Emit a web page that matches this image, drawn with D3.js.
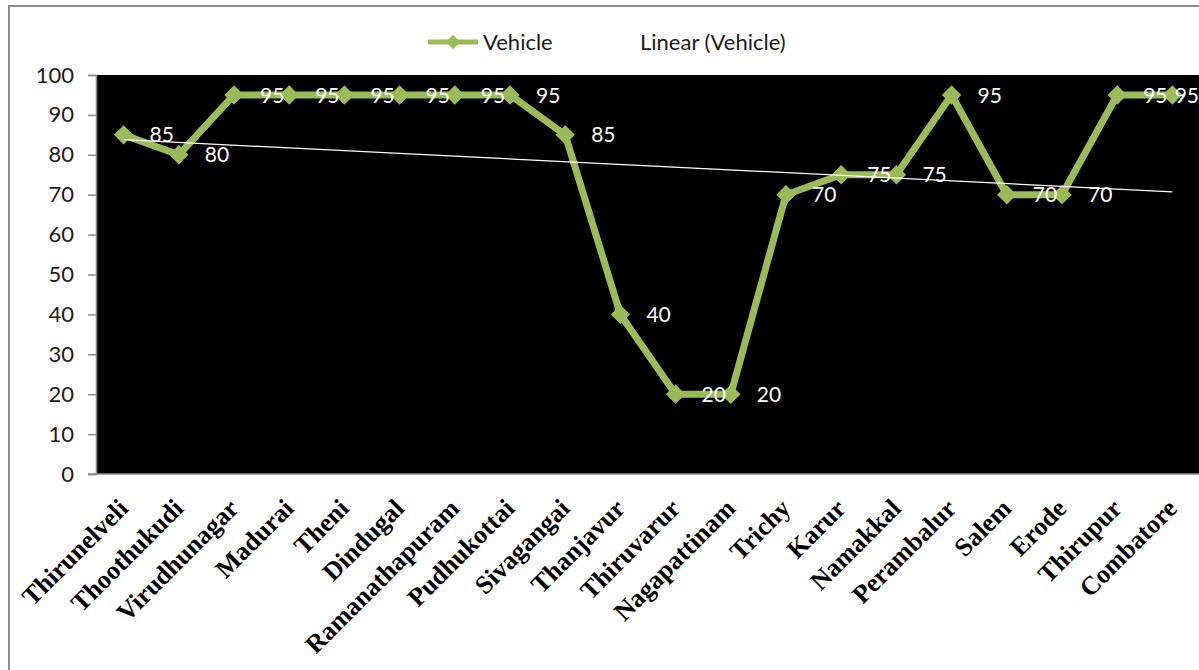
<!DOCTYPE html>
<html>
<head>
<meta charset="utf-8">
<script src="https://cdn.jsdelivr.net/npm/d3@7/dist/d3.min.js"></script>
<style>
  html, body { margin: 0; padding: 0; background: #fff; }
  svg { display: block; }
</style>
</head>
<body>
<svg id="chart" width="1199" height="670"></svg>
<script>
// District names along the x axis
const districts = [
  "Thirunelveli", "Thoothukudi", "Virudhunagar", "Madurai", "Theni",
  "Dindugal", "Ramanathapuram", "Pudhukottai", "Sivagangai", "Thanjavur",
  "Thiruvarur", "Nagapattinam", "Trichy", "Karur", "Namakkal",
  "Perambalur", "Salem", "Erode", "Thirupur", "Combatore"
];
// Vehicle score per district
const vehicle = [85, 80, 95, 95, 95, 95, 95, 95, 85, 40, 20, 20, 70, 75, 75, 95, 70, 70, 95, 95];
// Y axis ticks
const yTicks = [0, 10, 20, 30, 40, 50, 60, 70, 80, 90, 100];
const seriesName = "Vehicle";
const trendName = "Linear (Vehicle)";

const svg = d3.select("#chart");
const W = 1199, H = 670;
const plot = { left: 96, top: 75, right: 1200, bottom: 474 };
const green = "#9BBB59";
const sansFont = "Lato, 'Open Sans', sans-serif";
const sansSize = 22;

// outer chart frame
svg.append("line").attr("x1", 8).attr("x2", W).attr("y1", 6).attr("y2", 6)
  .attr("stroke", "#8c8c8c").attr("stroke-width", 2);
svg.append("line").attr("x1", 9).attr("x2", 9).attr("y1", 6).attr("y2", H)
  .attr("stroke", "#8c8c8c").attr("stroke-width", 2);

const x = d3.scaleBand().domain(districts).range([plot.left, plot.right]).padding(0);
const y = d3.scaleLinear().domain([0, 100]).range([plot.bottom, plot.top]);
const cx = d => x(d) + x.bandwidth() / 2;

// plot area background
svg.append("rect")
  .attr("x", plot.left).attr("y", plot.top)
  .attr("width", plot.right - plot.left).attr("height", plot.bottom - plot.top)
  .attr("fill", "#000");

// y axis
const yAxis = svg.append("g")
  .attr("transform", `translate(${plot.left},0)`)
  .call(d3.axisLeft(y).tickValues(yTicks).tickSize(8).tickPadding(14));
yAxis.select(".domain").attr("stroke", "#8c8c8c").attr("stroke-width", 1.5);
yAxis.selectAll(".tick line").attr("stroke", "#8c8c8c").attr("stroke-width", 1.5);
yAxis.selectAll(".tick text")
  .attr("fill", "#1a1a1a").attr("font-family", sansFont).attr("font-size", sansSize);

// x axis (no tick marks), rotated bold serif labels
const xAxis = svg.append("g")
  .attr("transform", `translate(0,${plot.bottom})`)
  .call(d3.axisBottom(x).tickSize(0).tickPadding(0));
xAxis.select(".domain").attr("stroke", "#8c8c8c").attr("stroke-width", 1.5)
  .attr("d", `M${plot.left - 8},0H${plot.right}`);
xAxis.selectAll(".tick text")
  .attr("font-family", "'Liberation Serif', 'Times New Roman', serif")
  .attr("font-weight", "bold")
  .attr("font-size", 26)
  .attr("fill", "#000")
  .attr("text-anchor", "end")
  .attr("dy", 0)
  .attr("transform", "translate(6,36) rotate(-45)");

// linear trend from least squares on the series
const n = vehicle.length;
const xs = d3.range(1, n + 1);
const mx = d3.mean(xs), my = d3.mean(vehicle);
const sxy = d3.sum(xs, (v, i) => (v - mx) * (vehicle[i] - my));
const sxx = d3.sum(xs, v => (v - mx) * (v - mx));
const slope = sxy / sxx, icpt = my - slope * mx;

// series line
svg.append("path")
  .datum(vehicle)
  .attr("fill", "none")
  .attr("stroke", green)
  .attr("stroke-width", 7)
  .attr("stroke-linejoin", "round")
  .attr("d", d3.line().x((d, i) => cx(districts[i])).y(d => y(d)));

// diamond markers
const diamond = d3.symbol().type(d3.symbolDiamond2).size(240);
svg.append("g").selectAll("path")
  .data(vehicle)
  .join("path")
  .attr("d", diamond)
  .attr("fill", green)
  .attr("transform", (d, i) => `translate(${cx(districts[i])},${y(d)})`);

// trend line
svg.append("line")
  .attr("x1", cx(districts[0])).attr("y1", y(icpt + slope * 1))
  .attr("x2", cx(districts[n - 1])).attr("y2", y(icpt + slope * n))
  .attr("stroke", "#fff").attr("stroke-width", 1.3);

// value labels, kept inside the chart's right edge
svg.append("g").selectAll("text")
  .data(vehicle)
  .join("text")
  .attr("y", d => y(d))
  .attr("dy", "0.36em")
  .attr("fill", "#fff")
  .attr("font-family", sansFont)
  .attr("font-size", 21)
  .text(d => d)
  .attr("x", function (d, i) {
    const w = this.getComputedTextLength();
    return Math.min(cx(districts[i]) + 26, W - w);
  });

// legend
const lg = svg.append("g").attr("transform", "translate(0,42)");
lg.append("line").attr("x1", 428).attr("x2", 478).attr("y1", 0).attr("y2", 0)
  .attr("stroke", green).attr("stroke-width", 5);
lg.append("path").attr("d", d3.symbol().type(d3.symbolDiamond2).size(130))
  .attr("fill", green).attr("transform", "translate(453,0)");
lg.append("text").attr("x", 483).attr("y", 0).attr("dy", "0.36em")
  .attr("font-family", sansFont).attr("font-size", sansSize).attr("fill", "#1a1a1a")
  .text(seriesName);
lg.append("line").attr("x1", 585).attr("x2", 635).attr("y1", 0).attr("y2", 0)
  .attr("stroke", "#fff").attr("stroke-width", 1.3);
lg.append("text").attr("x", 640).attr("y", 0).attr("dy", "0.36em")
  .attr("font-family", sansFont).attr("font-size", sansSize).attr("fill", "#1a1a1a")
  .text(trendName);
</script>
</body>
</html>
